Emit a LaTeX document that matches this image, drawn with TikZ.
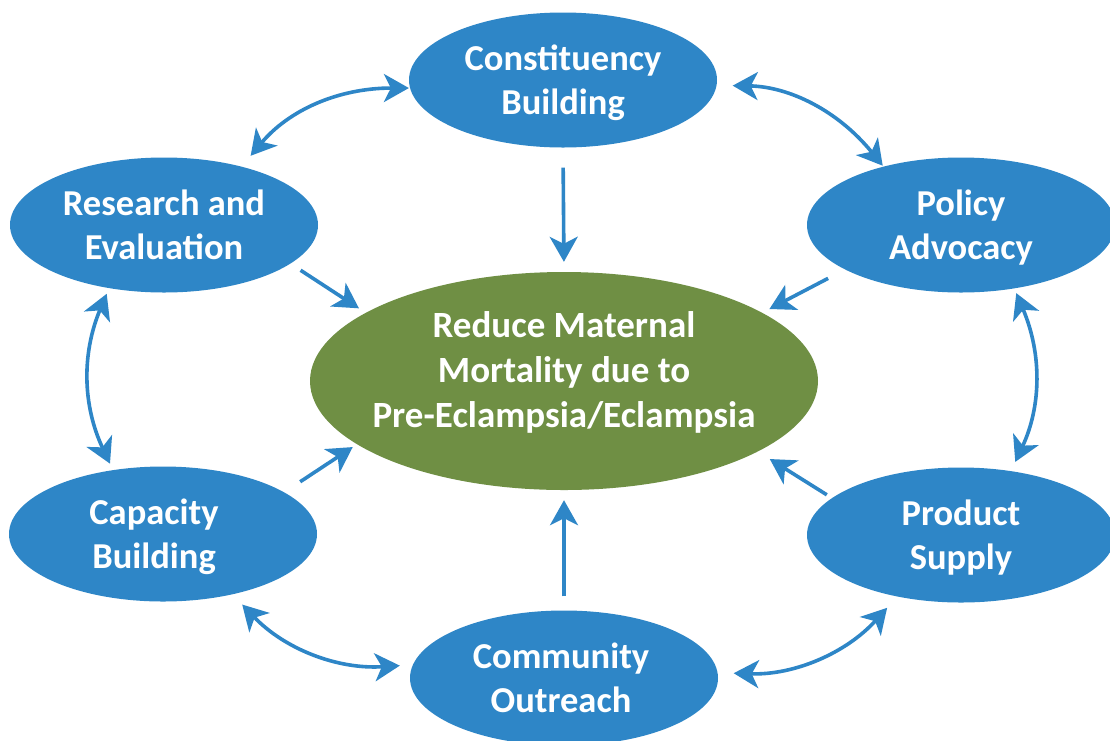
\documentclass[tikz,border=0pt]{standalone}
\usepackage{fontspec}
\setmainfont{Carlito}
\usetikzlibrary{arrows.meta,shapes.geometric}
\definecolor{nodeblue}{RGB}{46,134,199}
\definecolor{hubgreen}{RGB}{111,143,68}
\newcommand\topS{\rule{0pt}{34pt}}
\newcommand\botS{\rule[-10pt]{0pt}{10pt}}
\begin{document}
\begin{tikzpicture}[x=1pt,y=-1pt,
  blob/.style={ellipse, fill=nodeblue, draw=none, minimum width=308pt, minimum height=135pt, inner sep=0pt},
  hub/.style={ellipse, fill=hubgreen, draw=none, minimum width=508pt, minimum height=218pt, inner sep=0pt},
  lbl/.style={text=white, font=\bfseries\fontsize{36.5}{44}\selectfont, align=center, inner sep=0pt},
  hublbl/.style={text=white, font=\bfseries\fontsize{37}{45}\selectfont, align=center, inner sep=0pt},
  link/.style={draw=nodeblue, line width=3.6pt, >={Stealth[length=25pt,width=28pt,inset=7pt]}},
]
\fill[white] (0,0) rectangle (1110,740);
\useasboundingbox (0,0) rectangle (1110,740);

\node[blob] (con)  at (563,80)  {};
\node[blob] (res)  at (164,225) {};
\node[blob] (pol)  at (961,225) {};
\node[blob] (cap)  at (163,534) {};
\node[blob] (prod) at (961,535) {};
\node[blob] (com)  at (564,678) {};
\node[hub]  (ctr)  at (564,381) {};

\node[lbl] (conT)  at (con)  {\topS Constituency\\Building\botS};
\node[lbl] (resT)  at (res)  {\topS Research and\\Evaluation\botS};
\node[lbl] (polT)  at (pol)  {\topS Policy\\Advocacy\botS};
\node[lbl] (capT)  at ([xshift=-9pt]cap.center)  {\topS Capacity\\Building\botS};
\node[lbl] (prodT) at (prod) {\topS Product\\Supply\botS};
\node[lbl] (comT)  at ([xshift=-3pt]com.center)  {\topS Community\\Outreach\botS};
\node[hublbl] (ctrT) at (ctr) {\rule{0pt}{30pt}Reduce Maternal\\Mortality due to\\Pre-Eclampsia/Eclampsia\rule[-28pt]{0pt}{28pt}};

% ring connectors
\draw[link,<->,shorten <=1pt,shorten >=14pt] (con.183) to[bend right=25] (res.37);
\draw[link,<->,shorten <=16pt,shorten >=1pt] (con.-2) to[bend left=25] (pol.143);
\draw[link,<->,shorten <=6pt,shorten >=7pt] (res.229) to[bend right=24] (cap.128);
\draw[link,<->,shorten <=5pt,shorten >=10pt] (pol.-50) to[bend left=24] (prod.52);
\draw[link,<->,shorten <=14pt,shorten >=13pt] (cap.-41) to[bend right=25] (com.175);
\draw[link,<->,shorten <=16pt,shorten >=15pt] (com.2) to[bend right=25] (prod.224);

% spokes to the centre
\draw[link,->,shorten <=20pt,shorten >=10pt] (con.south) -- (ctr.north);
\draw[link,->,shorten <=12pt,shorten >=8pt] (res.-17) -- (ctr.161);
\draw[link,->,shorten <=19pt,shorten >=8pt] (pol.201) -- (ctr.19);
\draw[link,->,shorten <=19pt,shorten >=5pt] (cap.19) -- (ctr.197);
\draw[link,->,shorten <=6pt,shorten >=14pt] (prod.164) -- (ctr.-20);
\draw[link,->,shorten <=14pt,shorten >=10pt] (com.north) -- (ctr.south);
\end{tikzpicture}
\end{document}
